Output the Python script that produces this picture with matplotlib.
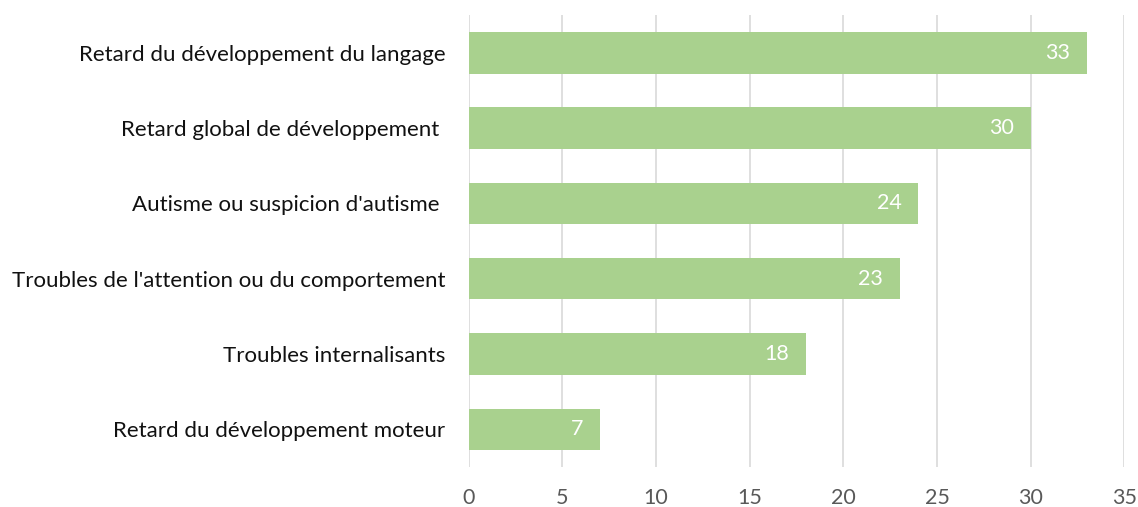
import matplotlib
matplotlib.use('Agg')
from matplotlib import pyplot as plt

categories = [
    "Retard du développement du langage",
    "Retard global de développement ",
    "Autisme ou suspicion d'autisme ",
    "Troubles de l'attention ou du comportement",
    "Troubles internalisants",
    "Retard du développement moteur",
]
values = [33, 30, 24, 23, 18, 7]
xticks = [0, 5, 10, 15, 20, 25, 30, 35]

plt.rcParams['font.family'] = ['Lato', 'DejaVu Sans']

fig = plt.figure(figsize=(11.38, 5.07), dpi=100)
ax = fig.add_axes([0.412, 0.079, 0.576, 0.891])

pos = list(range(len(categories)))[::-1]
bars = ax.barh(pos, values, height=0.55, color='#a9d18e', zorder=3)

for b, v in zip(bars, values):
    ax.annotate(str(v), (b.get_width(), b.get_y() + b.get_height() / 2),
                xytext=(-12, 0), textcoords='offset points',
                ha='right', va='center', color='white', fontsize=15.5)

ax.set_xlim(0, 35)
ax.set_ylim(-0.5, len(categories) - 0.5)
ax.set_xticks(xticks)
ax.set_yticks(pos)
ax.set_yticklabels(categories, fontsize=16, color='#111111')
ax.tick_params(axis='x', length=0, pad=15, labelsize=15.5, labelcolor='#595959')
ax.tick_params(axis='y', length=0, pad=17)
ax.grid(axis='x', color='#d9d9d9', lw=1.2, zorder=0)
for s in ax.spines.values():
    s.set_visible(False)

fig.savefig('out.png', dpi=100)
